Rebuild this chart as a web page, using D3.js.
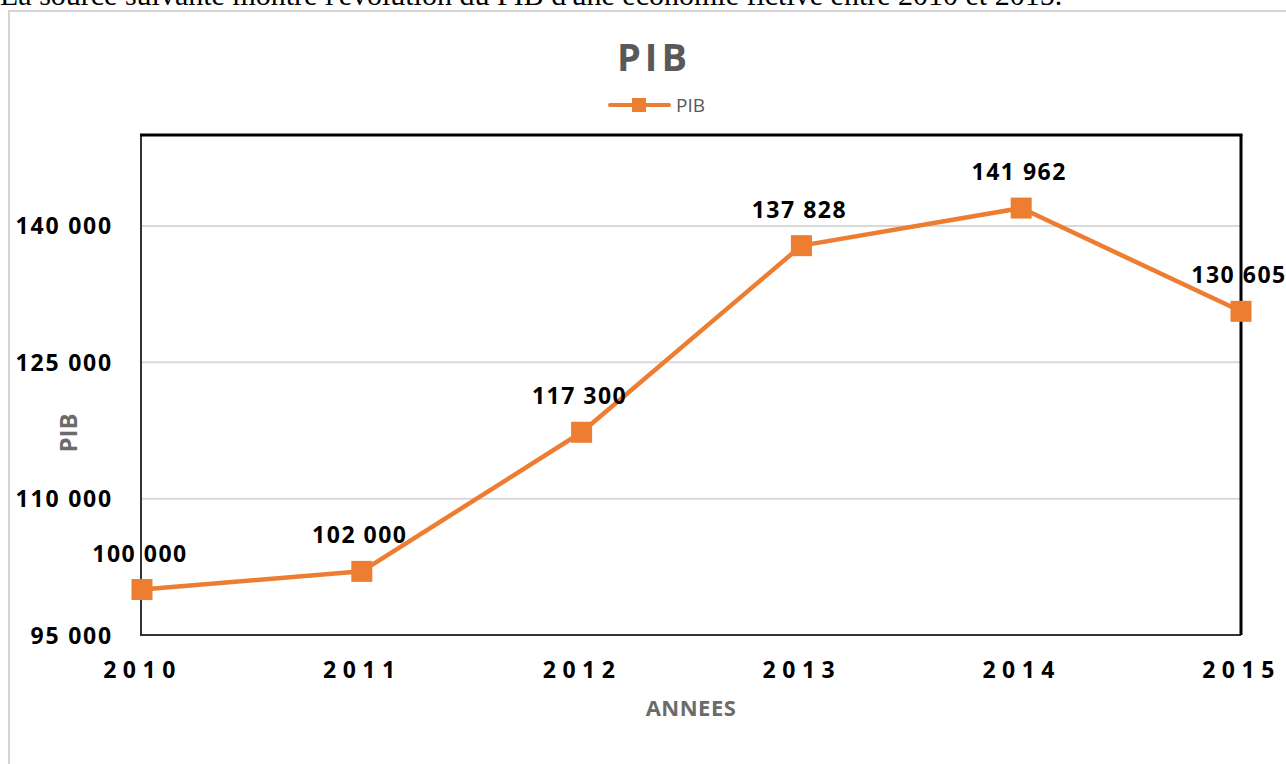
<!DOCTYPE html>
<html>
<head>
<meta charset="utf-8">
<script src="https://cdn.jsdelivr.net/npm/d3@7"></script>
<style>
  body { margin: 0; background: #fff; overflow: hidden; }
  svg { display: block; }
</style>
</head>
<body>
<div id="chart"></div>
<script>
// chart values
var years = ["2010", "2011", "2012", "2013", "2014", "2015"];
var pib = [100000, 102000, 117300, 137828, 141962, 130605];
var yTicks = [95000, 110000, 125000, 140000];

var W = 1286, H = 764;
var plot = { left: 142, right: 1241, top: 135, bottom: 635 };
var orange = "#ED7D31";
var font = "'Open Sans', 'Noto Sans', sans-serif";

var fmt = d3.formatLocale({ decimal: ",", thousands: " ", grouping: [3], currency: ["", ""] }).format(",d");

var svg = d3.select("#chart")
	.append("svg")
	.attr("width", W)
	.attr("height", H);

// sentence cut at the top of the page, as in the scan
svg.append("text")
	.attr("x", 0)
	.attr("y", 5)
	.attr("font-family", "'Liberation Serif', 'DejaVu Serif', serif")
	.attr("font-size", 30)
	.attr("fill", "#000")
	.text("La source suivante montre l'évolution du PIB d'une économie fictive entre 2010 et 2015.");

// outer chart frame
svg.append("rect")
	.attr("x", 9).attr("y", 11)
	.attr("width", W).attr("height", H)
	.attr("fill", "none")
	.attr("stroke", "#d4d4d4")
	.attr("stroke-width", 2);

var x = d3.scalePoint()
	.domain(years)
	.range([plot.left, plot.right]);

var y = d3.scaleLinear()
	.domain([95000, 150000])
	.range([plot.bottom, plot.top]);

// gridlines
svg.append("g")
	.selectAll("line")
	.data(yTicks.filter(d => d > 95000))
	.join("line")
	.attr("x1", plot.left).attr("x2", plot.right)
	.attr("y1", d => y(d)).attr("y2", d => y(d))
	.attr("stroke", "#d9d9d9")
	.attr("stroke-width", 2);

// plot frame
var frame = svg.append("g");
frame.append("line")
	.attr("x1", plot.left - 1).attr("x2", plot.left - 1)
	.attr("y1", plot.top).attr("y2", plot.bottom)
	.attr("stroke", "#333").attr("stroke-width", 2);
frame.append("line")
	.attr("x1", plot.left - 2).attr("x2", plot.right)
	.attr("y1", plot.bottom).attr("y2", plot.bottom)
	.attr("stroke", "#333").attr("stroke-width", 2);
frame.append("line")
	.attr("x1", plot.left - 2).attr("x2", plot.right + 1.5)
	.attr("y1", plot.top).attr("y2", plot.top)
	.attr("stroke", "#000").attr("stroke-width", 3);
frame.append("line")
	.attr("x1", plot.right).attr("x2", plot.right)
	.attr("y1", plot.top).attr("y2", plot.bottom)
	.attr("stroke", "#000").attr("stroke-width", 3);

// y axis
var yAxis = svg.append("g")
	.attr("transform", "translate(" + (plot.left - 29) + ",0)")
	.call(d3.axisLeft(y).tickValues(yTicks).tickFormat(fmt).tickSize(0).tickPadding(0));
yAxis.select(".domain").remove();
yAxis.selectAll("text")
	.attr("font-family", font)
	.attr("font-size", 23)
	.attr("font-weight", "bold")
	.attr("letter-spacing", 1.8)
	.attr("fill", "#000")
	.attr("dy", "0.35em");

// x axis
var xAxis = svg.append("g")
	.attr("transform", "translate(0," + plot.bottom + ")")
	.call(d3.axisBottom(x).tickSize(0).tickPadding(0));
xAxis.select(".domain").remove();
xAxis.selectAll("text")
	.attr("font-family", font)
	.attr("font-size", 23)
	.attr("font-weight", "bold")
	.attr("letter-spacing", 6.5)
	.attr("fill", "#000")
	.attr("dy", 0)
	.attr("y", 43);

// axis titles
svg.append("text")
	.attr("x", 691).attr("y", 716)
	.attr("text-anchor", "middle")
	.attr("font-family", font)
	.attr("font-size", 22)
	.attr("font-weight", "bold")
	.attr("letter-spacing", 0.5)
	.attr("fill", "#6b6b6b")
	.text("ANNEES");

svg.append("text")
	.attr("transform", "translate(77,433) rotate(-90)")
	.attr("text-anchor", "middle")
	.attr("font-family", font)
	.attr("font-size", 24)
	.attr("font-weight", "bold")
	.attr("fill", "#6b6b6b")
	.text("PIB");

// title
svg.append("text")
	.attr("x", 654).attr("y", 71)
	.attr("text-anchor", "middle")
	.attr("font-family", font)
	.attr("font-size", 38)
	.attr("font-weight", "bold")
	.attr("letter-spacing", 4)
	.attr("fill", "#595959")
	.text("PIB");

// legend
var legend = svg.append("g").attr("transform", "translate(610,105)");
legend.append("line")
	.attr("x1", 0).attr("x2", 59)
	.attr("stroke", orange).attr("stroke-width", 4).attr("stroke-linecap", "round");
legend.append("rect")
	.attr("x", 22).attr("y", -7).attr("width", 14).attr("height", 14)
	.attr("fill", orange);
legend.append("text")
	.attr("x", 66).attr("y", 7)
	.attr("font-family", font)
	.attr("font-size", 19)
	.attr("fill", "#595959")
	.text("PIB");

// series
var data = years.map((d, i) => ({ year: d, value: pib[i] }));

svg.append("path")
	.datum(data)
	.attr("fill", "none")
	.attr("stroke", orange)
	.attr("stroke-width", 4.5)
	.attr("stroke-linejoin", "round")
	.attr("d", d3.line().x(d => x(d.year)).y(d => y(d.value)));

var ms = 21;
svg.append("g")
	.selectAll("rect")
	.data(data)
	.join("rect")
	.attr("x", d => x(d.year) - ms / 2)
	.attr("y", d => y(d.value) - ms / 2)
	.attr("width", ms).attr("height", ms)
	.attr("fill", orange);

svg.append("g")
	.selectAll("text")
	.data(data)
	.join("text")
	.attr("x", d => x(d.year) - 2)
	.attr("y", d => y(d.value) - 28)
	.attr("text-anchor", "middle")
	.attr("font-family", font)
	.attr("font-size", 23)
	.attr("font-weight", "bold")
	.attr("letter-spacing", 1.5)
	.attr("fill", "#000")
	.text(d => fmt(d.value));
</script>
</body>
</html>
